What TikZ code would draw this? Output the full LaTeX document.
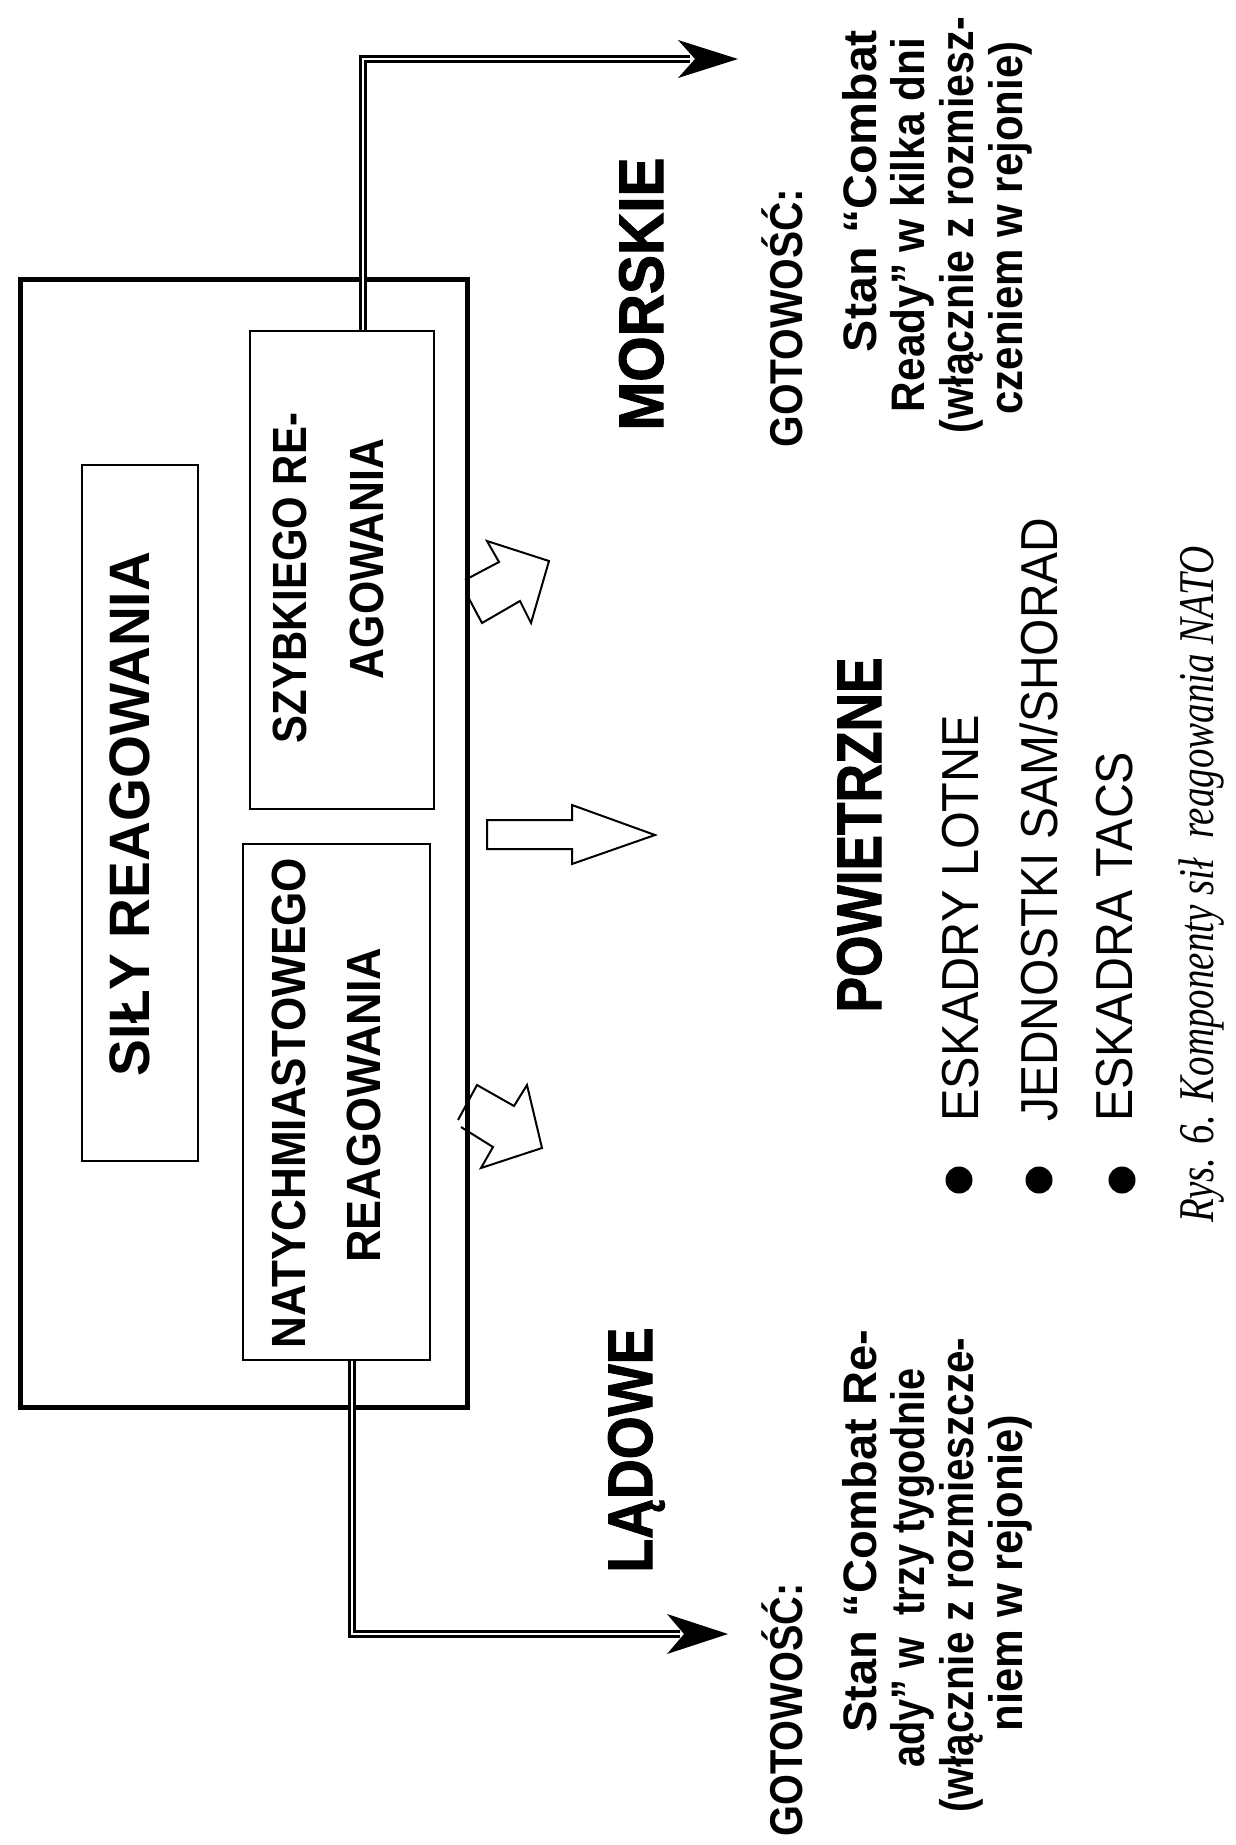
\documentclass[tikz,border=0pt]{standalone}
\usepackage{fontspec}
\usepackage{graphicx}
\setmainfont{Liberation Sans}
\newfontfamily\capfont{Liberation Serif}
\newfontfamily\heavyfont[BoldFeatures={FakeBold=1.6}]{Liberation Sans}
\newcommand\fitw[3]{{\fontsize{#1}{#1}\selectfont\resizebox{#2pt}{\height}{#3}}}
\begin{document}
\begin{tikzpicture}[x=1pt,y=-1pt,
  txt/.style={rotate=90, inner sep=0pt, anchor=base},
  txtw/.style={rotate=90, inner sep=0pt, anchor=base west},
  boxthin/.style={draw, line width=2pt, inner sep=0pt},
  boxouter/.style={draw, line width=5pt, inner sep=0pt},
  dbl/.style={double, double distance=2.6pt, line width=2.4pt},
  blk/.style={draw, line width=2pt, line join=miter},
  bul/.style={circle, fill=black, minimum size=27pt, inner sep=0pt}]
\useasboundingbox (0,0) rectangle (1236,1845);
\fill[white] (0,0) rectangle (1236,1845);

% boxes
\node[boxouter, minimum width=447pt, minimum height=1128pt] (outer) at (243.5,843) {};
\node[boxthin, minimum width=116pt, minimum height=696pt] (sily) at (140,813) {};
\node[boxthin, minimum width=184pt, minimum height=478pt] (szyb) at (342,570) {};
\node[boxthin, minimum width=187pt, minimum height=516pt] (naty) at (336.5,1102) {};

% box texts
\node[txt] (t0) at (149,814) {\fitw{57}{524}{\bfseries SIŁY REAGOWANIA}};
\node[txt] (t1) at (306,578) {\fitw{48}{330}{\bfseries SZYBKIEGO RE-}};
\node[txt] (t2) at (383,559) {\fitw{48}{240}{\bfseries AGOWANIA}};
\node[txt] (t3) at (305,1103) {\fitw{48}{490}{\bfseries NATYCHMIASTOWEGO}};
\node[txt] (t4) at (380,1105) {\fitw{48}{315}{\bfseries REAGOWANIA}};

% double-line connectors
\coordinate (mturn) at (363,59);
\coordinate (mhead) at (738,59);
\draw[dbl] (szyb.north -| mturn) |- ([xshift=-48pt]mhead);
\fill (mhead) -- ++(-60,-19) -- ++(17,19) -- ++(-17,19) -- cycle;

\coordinate (lturn) at (352,1634);
\coordinate (lhead) at (728,1634);
\draw[dbl] (naty.south -| lturn) |- ([xshift=-48pt]lhead);
\fill (lhead) -- ++(-61,-20) -- ++(17,20) -- ++(-17,20) -- cycle;

% block arrows
\draw[blk] (465,580) -- (499,562) -- (487,541) -- (549,561) -- (531,623) -- (520,601) -- (482,623) -- (467,595);
\draw[blk] (487,820) -- (572,820) -- (572,805) -- (655,835) -- (572,864) -- (572,849) -- (487,849) -- cycle;
\draw[blk] (458,1120) -- (477,1085) -- (514,1106) -- (527,1085) -- (542,1148) -- (481,1168) -- (493,1147) -- (461,1127);

% category labels
\node[txt] (mor) at (663,294) {\fitw{63}{273}{\heavyfont\bfseries MORSKIE}};
\node[txt] (pow) at (881,835) {\fitw{63}{355}{\heavyfont\bfseries POWIETRZNE}};
\node[txt] (lad) at (652,1450) {\fitw{63}{245}{\heavyfont\bfseries LĄDOWE}};

% top readiness block
\node[txt] (mg) at (802,318) {\fitw{46}{259}{\bfseries GOTOWOŚĆ:}};
\node[txt] (m1) at (876,191) {\fitw{47}{322}{\bfseries Stan “Combat}};
\node[txt] (m2) at (924,225) {\fitw{47}{374}{\bfseries Ready” w kilka dni}};
\node[txt] (m3) at (973,225) {\fitw{47}{416}{\bfseries (włącznie z rozmiesz-}};
\node[txt] (m4) at (1022,228) {\fitw{47}{373}{\bfseries czeniem w rejonie)}};

% bottom readiness block
\node[txt] (lg) at (802,1710) {\fitw{46}{253}{\bfseries GOTOWOŚĆ:}};
\node[txt] (l1) at (876,1531) {\fitw{47}{403}{\bfseries Stan “Combat Re-}};
\node[txt] (l2) at (924,1568) {\fitw{47}{399}{\bfseries ady” w\ \ trzy tygodnie}};
\node[txt] (l3) at (973,1575) {\fitw{47}{475}{\bfseries (włącznie z rozmieszcze-}};
\node[txt] (l4) at (1022,1573) {\fitw{47}{317}{\bfseries niem w rejonie)}};

% bullet list
\node[bul] (b1) at (959,1180) {};
\node[bul] (b2) at (1039,1180) {};
\node[bul] (b3) at (1122,1180) {};
\node[txtw] (e1) at (978,1122) {\fitw{52}{407}{ESKADRY LOTNE}};
\node[txtw] (e2) at (1057,1122) {\fitw{52}{604}{JEDNOSTKI SAM/SHORAD}};
\node[txtw] (e3) at (1132,1122) {\fitw{52}{370}{ESKADRA TACS}};

% caption
\node[txtw] (cap) at (1213,1223) {\fitw{50}{676}{\capfont\itshape Rys. 6. Komponenty sił\ \ reagowania NATO}};
\end{tikzpicture}
\end{document}
